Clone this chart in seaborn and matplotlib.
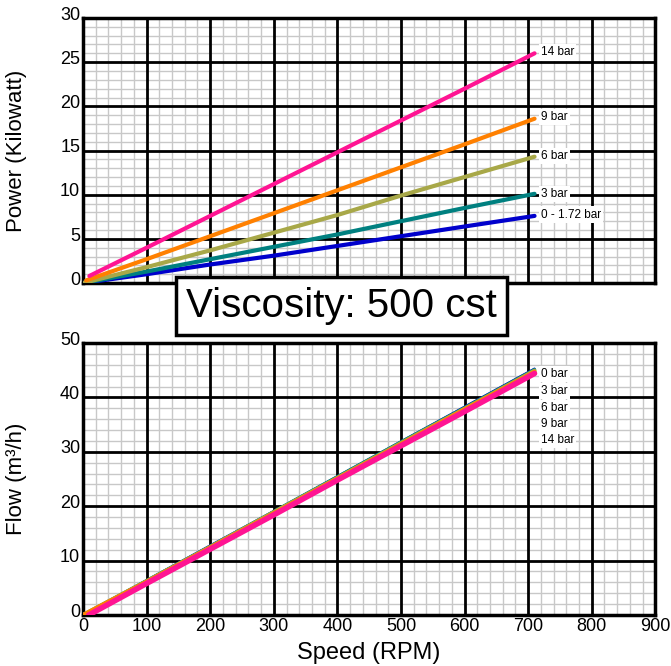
import matplotlib

matplotlib.use("Agg")
import matplotlib.pyplot as plt
import matplotlib.transforms as mtransforms
import numpy as np
import pandas as pd
import seaborn as sns

# --- data ---
speed = [0, 100, 200, 300, 400, 500, 600, 710]
speed_9 = [5, 100, 200, 300, 400, 500, 600, 710]
speed_14 = [10, 100, 200, 300, 400, 500, 600, 710]
speed_flow_14 = [9, 100, 200, 300, 400, 500, 600, 710]

power_0 = [0, 1.0, 2.1, 3.1, 4.2, 5.3, 6.4, 7.6]
power_3 = [0, 1.3, 2.7, 4.1, 5.5, 7.0, 8.5, 10.1]
power_6 = [0, 1.8, 3.7, 5.7, 7.7, 9.9, 12.0, 14.3]
power_9 = [0.3, 2.7, 5.3, 7.9, 10.5, 13.1, 15.7, 18.6]
power_14 = [0.8, 4.0, 7.6, 11.2, 14.8, 18.4, 22.0, 26.0]

flow_0 = [0, 6.4, 12.8, 19.1, 25.5, 31.9, 38.3, 45.3]
flow_3 = [0, 6.3, 12.6, 19.0, 25.4, 31.8, 38.1, 45.1]
flow_6 = [0, 6.2, 12.5, 18.9, 25.2, 31.6, 37.9, 44.9]
flow_9 = [0, 6.1, 12.4, 18.7, 25.1, 31.4, 37.8, 44.7]
flow_14 = [0, 5.8, 12.1, 18.4, 24.8, 31.1, 37.4, 44.4]

power_labels = ["0 - 1.72 bar", "3 bar", "6 bar", "9 bar", "14 bar"]
power_label_y = [7.75, 10.1, 14.4, 18.8, 26.1]
flow_labels = ["0 bar", "3 bar", "6 bar", "9 bar", "14 bar"]
flow_label_y = [44.3, 41.2, 38.1, 35.2, 32.1]

colors = ["#0000CC", "#008080", "#A8A848", "#FF8000", "#FF1493"]

power_df = pd.concat([
    pd.DataFrame({"speed": speed, "value": power_0, "series": "0 - 1.72 bar"}),
    pd.DataFrame({"speed": speed, "value": power_3, "series": "3 bar"}),
    pd.DataFrame({"speed": speed, "value": power_6, "series": "6 bar"}),
    pd.DataFrame({"speed": speed_9, "value": power_9, "series": "9 bar"}),
    pd.DataFrame({"speed": speed_14, "value": power_14, "series": "14 bar"}),
])
flow_df = pd.concat([
    pd.DataFrame({"speed": speed, "value": flow_0, "series": "0 bar"}),
    pd.DataFrame({"speed": speed, "value": flow_3, "series": "3 bar"}),
    pd.DataFrame({"speed": speed, "value": flow_6, "series": "6 bar"}),
    pd.DataFrame({"speed": speed, "value": flow_9, "series": "9 bar"}),
    pd.DataFrame({"speed": speed_flow_14, "value": flow_14, "series": "14 bar"}),
])

sns.set_style("white")
plt.rcParams["font.family"] = ["Liberation Sans", "DejaVu Sans"]
plt.rcParams.update({"text.color": "black", "axes.labelcolor": "black",
                     "xtick.color": "black", "ytick.color": "black"})

fig = plt.figure(figsize=(6.71, 6.66), dpi=100)
ax1 = fig.add_axes([0.1237, 0.575, 0.853, 0.398])
ax2 = fig.add_axes([0.1237, 0.0766, 0.853, 0.4084])


def style_grid(ax, ymax, ymajor, yminor):
    ax.set_xlim(0, 900)
    ax.set_ylim(0, ymax)
    ax.set_xticks(np.arange(0, 901, 100))
    ax.set_yticks(np.arange(0, ymax + 1, ymajor))
    # light minor grid drawn below the black major grid
    ax.vlines([v for v in range(0, 901, 20) if v % 100], 0, ymax,
              color="#C8C8C8", lw=1.0, zorder=0.1)
    ax.hlines([v for v in range(0, ymax + 1, yminor) if v % ymajor], 0, 900,
              color="#C8C8C8", lw=1.0, zorder=0.1)
    ax.grid(which="major", color="black", lw=2.0)
    ax.set_axisbelow(True)
    ax.tick_params(which="both", length=0, labelsize=13, pad=2, colors="black")
    for sp in ax.spines.values():
        sp.set_color("black")
        sp.set_linewidth(2.5)
    # y tick labels sit a little above their grid line in the reference
    shift = mtransforms.ScaledTranslation(0, 3.5 / 72, fig.dpi_scale_trans)
    for lbl in ax.get_yticklabels():
        lbl.set_transform(lbl.get_transform() + shift)


style_grid(ax1, 30, 5, 1)
style_grid(ax2, 50, 10, 2)

sns.lineplot(data=power_df, x="speed", y="value", hue="series", palette=colors,
             linewidth=3.0, legend=False, ax=ax1, zorder=3)
sns.lineplot(data=flow_df, x="speed", y="value", hue="series", palette=colors,
             size="series", sizes=[1.5, 2.5, 3.0, 3.0, 4.0],
             legend=False, ax=ax2, zorder=3)

ax1.set_xticklabels([])
ax1.set_xlabel("")
ax1.set_ylabel("Power (Kilowatt)", fontsize=16)
ax1.yaxis.set_label_coords(-0.098, 0.5)
ax2.set_xlabel("Speed (RPM)", fontsize=17)
ax2.xaxis.set_label_coords(0.5, -0.1)
ax2.set_ylabel("Flow (m³/h)", fontsize=16)
ax2.yaxis.set_label_coords(-0.098, 0.5)

for lab, y in zip(power_labels, power_label_y):
    ax1.text(720, y, lab, fontsize=8.5, va="center", ha="left", zorder=5,
             bbox=dict(facecolor="white", edgecolor="none", pad=1.5))
for lab, y in zip(flow_labels, flow_label_y):
    ax2.text(720, y, lab, fontsize=8.5, va="center", ha="left", zorder=5,
             bbox=dict(facecolor="white", edgecolor="none", pad=1.5))

fig.text(0.509, 0.541, "Viscosity: 500 cst", fontsize=29, ha="center", va="center",
         bbox=dict(facecolor="white", edgecolor="black", linewidth=2.5,
                   boxstyle="square,pad=0.25"))

fig.savefig("out.png", dpi=100)
plt.close(fig)
